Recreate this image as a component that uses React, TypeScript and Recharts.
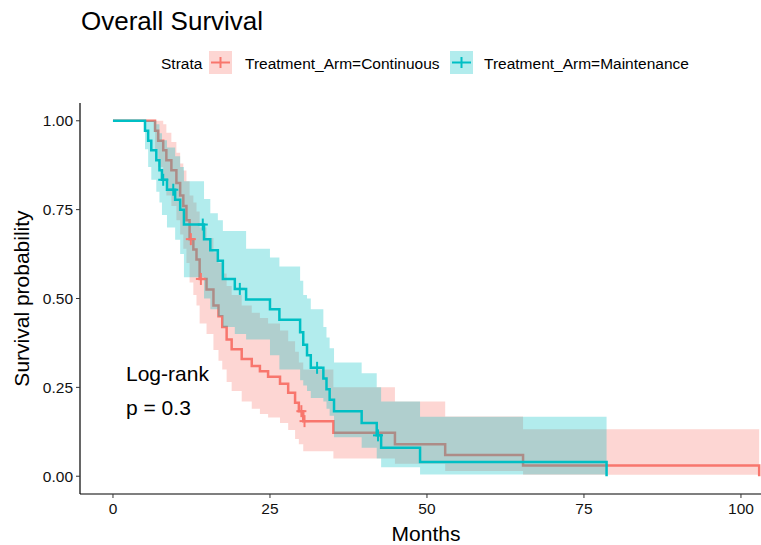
import React from 'react'
import { ComposedChart, Line, Area, Scatter, XAxis, YAxis } from 'recharts'

const RED = '#F8766D'
const CYAN = '#00BFC4'
const FONT = '"Liberation Sans", Arial, Helvetica, sans-serif'

// Treatment_Arm=Continuous: step times (months), survival and 95% CI
const contTime = [0, 6.7, 7.2, 8.0, 8.5, 9.3, 10.1, 10.7, 11.2, 11.7, 12.2, 12.8, 13.3, 13.8, 14.9, 16.0, 16.8, 17.4, 18.1, 18.9, 20.5, 22.1, 23.4, 24.7, 26.6, 27.9, 29.0, 29.6, 30.3, 35.1, 44.9, 52.9, 65.3, 102.9]
const contSurv = [1, 0.972, 0.944, 0.917, 0.889, 0.861, 0.825, 0.79, 0.76, 0.72, 0.667, 0.638, 0.61, 0.555, 0.525, 0.48, 0.45, 0.42, 0.385, 0.357, 0.33, 0.31, 0.295, 0.28, 0.26, 0.235, 0.207, 0.183, 0.155, 0.122, 0.09, 0.06, 0.03, 0]
const contLower = [1, 0.92, 0.87, 0.83, 0.79, 0.76, 0.72, 0.68, 0.64, 0.6, 0.545, 0.51, 0.48, 0.43, 0.4, 0.355, 0.325, 0.3, 0.265, 0.24, 0.21, 0.19, 0.175, 0.165, 0.15, 0.13, 0.105, 0.09, 0.07, 0.05, 0.035, 0.015, 0.004, 0.004]
const contUpper = [1, 1, 1, 0.99, 0.966, 0.94, 0.91, 0.88, 0.86, 0.83, 0.79, 0.77, 0.745, 0.7, 0.67, 0.63, 0.6, 0.57, 0.535, 0.51, 0.48, 0.46, 0.445, 0.43, 0.41, 0.38, 0.35, 0.32, 0.3, 0.25, 0.21, 0.168, 0.132, 0.132]
const contCensor = [12.4, 14.0, 30.0, 30.5]

// Treatment_Arm=Maintenance
const maintTime = [0, 5.1, 5.6, 6.1, 6.9, 7.4, 7.8, 8.6, 9.9, 10.7, 11.3, 14.5, 15.5, 16.7, 17.5, 19.4, 21.2, 25.0, 26.5, 29.8, 30.3, 30.9, 31.5, 33.5, 34.0, 34.5, 35.2, 39.6, 42.0, 42.7, 48.9, 78.6]
const maintSurv = [1, 0.972, 0.944, 0.917, 0.889, 0.861, 0.834, 0.806, 0.778, 0.75, 0.708, 0.667, 0.636, 0.606, 0.555, 0.527, 0.497, 0.47, 0.44, 0.405, 0.37, 0.34, 0.305, 0.275, 0.245, 0.215, 0.183, 0.15, 0.115, 0.08, 0.04, 0]
const maintLower = [1, 0.92, 0.87, 0.834, 0.8, 0.77, 0.735, 0.7, 0.665, 0.625, 0.56, 0.5, 0.47, 0.45, 0.42, 0.4, 0.385, 0.34, 0.3, 0.27, 0.255, 0.24, 0.22, 0.21, 0.19, 0.17, 0.11, 0.08, 0.05, 0.025, 0.005, 0.005]
const maintUpper = [1, 1, 1, 1, 0.99, 0.965, 0.945, 0.925, 0.9, 0.87, 0.83, 0.78, 0.74, 0.72, 0.69, 0.69, 0.64, 0.615, 0.59, 0.55, 0.51, 0.5, 0.47, 0.42, 0.39, 0.36, 0.32, 0.29, 0.25, 0.21, 0.167, 0.167]
const maintCensor = [8.0, 9.6, 14.3, 20.2, 32.5, 42.2]

const xTicks = [0, 25, 50, 75, 100]
const yTicks = [0, 0.25, 0.5, 0.75, 1]

function stepValue(times: number[], vals: number[], t: number): number | null {
  if (t > times[times.length - 1]) return null
  let v: number | null = null
  times.forEach((tt, i) => {
    if (tt <= t) v = vals[i]
  })
  return v
}

const allTimes = Array.from(new Set([...contTime, ...maintTime])).sort((a, b) => a - b)

const data = allTimes.map((t) => {
  const cs = stepValue(contTime, contSurv, t)
  const ms = stepValue(maintTime, maintSurv, t)
  return {
    t,
    cont: cs,
    contBand: cs === null ? null : [stepValue(contTime, contLower, t), stepValue(contTime, contUpper, t)],
    maint: ms,
    maintBand: ms === null ? null : [stepValue(maintTime, maintLower, t), stepValue(maintTime, maintUpper, t)],
  }
})

const contMarks = contCensor.map((t) => ({ t, s: stepValue(contTime, contSurv, t) }))
const maintMarks = maintCensor.map((t) => ({ t, s: stepValue(maintTime, maintSurv, t) }))

const plus = (color: string) => (props: any) => {
  const { cx, cy } = props
  return (
    <g stroke={color} strokeWidth={2}>
      <line x1={cx - 5} y1={cy} x2={cx + 5} y2={cy} />
      <line x1={cx} y1={cy - 6} x2={cx} y2={cy + 6} />
    </g>
  )
}

const tickStyle = { fill: '#111', fontSize: 15.5, fontFamily: FONT }

export default function App() {
  return (
    <div style={{ position: 'absolute', left: 0, top: 0, width: 761, height: 545, background: '#fff' }}>
      <ComposedChart
        width={761}
        height={545}
        data={data}
        margin={{ top: 103, right: 0, bottom: 0, left: 0 }}
      >
        <XAxis
          dataKey="t"
          type="number"
          domain={[-5.25, 103.19]}
          ticks={xTicks}
          allowDataOverflow
          height={51}
          tickSize={4}
          tickMargin={5}
          tick={tickStyle}
          axisLine={{ stroke: '#000', strokeWidth: 1.2 }}
          tickLine={{ stroke: '#333' }}
        />
        <YAxis
          type="number"
          domain={[-0.05, 1.05]}
          ticks={yTicks}
          allowDataOverflow
          width={80}
          tickSize={4}
          tickMargin={3}
          tickFormatter={(v: number) => v.toFixed(2)}
          tick={tickStyle}
          axisLine={{ stroke: '#000', strokeWidth: 1.2 }}
          tickLine={{ stroke: '#333' }}
        />
        <Area
          dataKey="contBand"
          type="stepAfter"
          fill={RED}
          fillOpacity={0.3}
          stroke="none"
          isAnimationActive={false}
        />
        {/* red curve drawn as an unfilled area so the cyan ribbon sits over it */}
        <Area
          dataKey="cont"
          type="stepAfter"
          fill="none"
          stroke={RED}
          strokeWidth={2.5}
          dot={false}
          activeDot={false}
          isAnimationActive={false}
        />
        <Area
          dataKey="maintBand"
          type="stepAfter"
          fill={CYAN}
          fillOpacity={0.3}
          stroke="none"
          isAnimationActive={false}
        />
        <Line
          dataKey="maint"
          type="stepAfter"
          stroke={CYAN}
          strokeWidth={2.5}
          dot={false}
          isAnimationActive={false}
        />
        <Scatter data={contMarks} dataKey="s" shape={plus(RED)} isAnimationActive={false} />
        <Scatter data={maintMarks} dataKey="s" shape={plus(CYAN)} isAnimationActive={false} />
      </ComposedChart>
      <svg
        width={761}
        height={545}
        style={{ position: 'absolute', left: 0, top: 0, pointerEvents: 'none' }}
        fontFamily={FONT}
        fill="#000"
      >
        <text x={81} y={30} fontSize={26}>Overall Survival</text>
        <text x={161} y={69} fontSize={15.5}>Strata</text>
        <rect x={209} y={51} width={23} height={23} fill={RED} fillOpacity={0.3} />
        <g stroke={RED} strokeWidth={2}>
          <line x1={211} y1={62.5} x2={230} y2={62.5} />
          <line x1={220.5} y1={57} x2={220.5} y2={68} />
        </g>
        <text x={245} y={69} fontSize={15.5}>Treatment_Arm=Continuous</text>
        <rect x={450} y={51} width={23} height={23} fill={CYAN} fillOpacity={0.3} />
        <g stroke={CYAN} strokeWidth={2}>
          <line x1={452} y1={62.5} x2={471} y2={62.5} />
          <line x1={461.5} y1={57} x2={461.5} y2={68} />
        </g>
        <text x={484} y={69} fontSize={15.5}>Treatment_Arm=Maintenance</text>
        <text x={126} y={381} fontSize={21}>Log-rank</text>
        <text x={126} y={415} fontSize={21}>p = 0.3</text>
        <text x={426} y={541} fontSize={21} textAnchor="middle">Months</text>
        <text
          x={29}
          y={298.5}
          fontSize={21}
          textAnchor="middle"
          transform="rotate(-90 29 298.5)"
        >
          Survival probability
        </text>
      </svg>
    </div>
  )
}
